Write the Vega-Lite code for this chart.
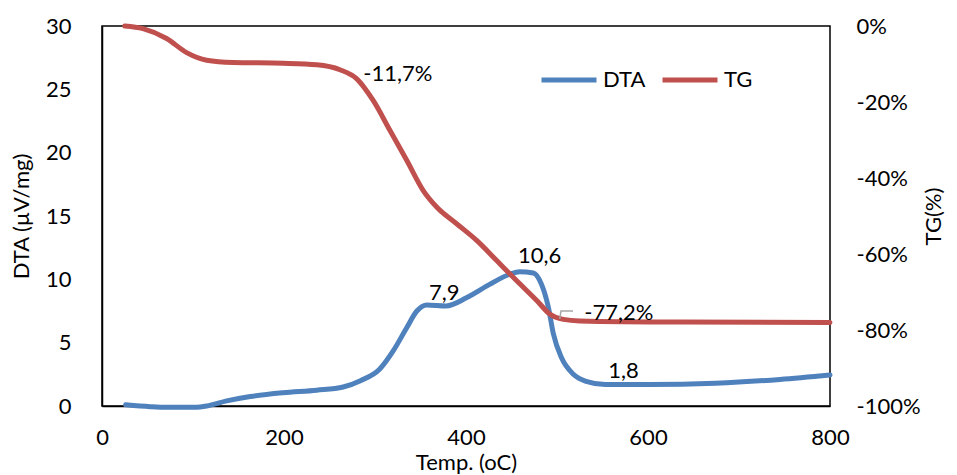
{
  "$schema": "https://vega.github.io/schema/vega-lite/v6.json",
  "width": 728,
  "height": 380,
  "autosize": {"type": "none"},
  "padding": {"left": 102, "top": 26, "right": 127, "bottom": 69},
  "background": "white",
  "config": {
    "font": "Lato",
    "view": {"stroke": "black", "strokeWidth": 1.5},
    "axis": {"grid": false, "ticks": false, "labelFlush": false, "domainColor": "black", "domainWidth": 1.5, "labelFont": "Lato", "titleFont": "Lato", "labelFontSize": 22, "titleFontSize": 22, "labelColor": "black", "titleColor": "black", "titleFontWeight": "normal"},
    "legend": {"labelFont": "Lato", "labelFontSize": 22, "labelColor": "black"}
  },
  "datasets": {
    "dta": [
      {"Temp": 26, "DTA": 0.1}, {"Temp": 53, "DTA": -0.05}, {"Temp": 71, "DTA": -0.1}, {"Temp": 104, "DTA": -0.1},
      {"Temp": 115, "DTA": 0.0}, {"Temp": 137, "DTA": 0.4}, {"Temp": 163, "DTA": 0.75}, {"Temp": 199, "DTA": 1.05},
      {"Temp": 236, "DTA": 1.25}, {"Temp": 265, "DTA": 1.5}, {"Temp": 284, "DTA": 2.0}, {"Temp": 305, "DTA": 2.9},
      {"Temp": 320, "DTA": 4.35}, {"Temp": 335, "DTA": 6.2}, {"Temp": 346, "DTA": 7.5}, {"Temp": 357, "DTA": 7.98},
      {"Temp": 378, "DTA": 7.9}, {"Temp": 401, "DTA": 8.56}, {"Temp": 426, "DTA": 9.6}, {"Temp": 448, "DTA": 10.4},
      {"Temp": 459, "DTA": 10.6}, {"Temp": 474, "DTA": 10.5}, {"Temp": 483, "DTA": 9.6}, {"Temp": 490.5, "DTA": 7.8},
      {"Temp": 496, "DTA": 5.7}, {"Temp": 505, "DTA": 3.8}, {"Temp": 518, "DTA": 2.5}, {"Temp": 532, "DTA": 1.95},
      {"Temp": 553, "DTA": 1.7}, {"Temp": 601, "DTA": 1.7}, {"Temp": 674, "DTA": 1.8}, {"Temp": 745, "DTA": 2.1},
      {"Temp": 800, "DTA": 2.45}
    ],
    "tg": [
      {"Temp": 25, "TG": 0}, {"Temp": 45, "TG": -0.7}, {"Temp": 71, "TG": -3.3}, {"Temp": 93, "TG": -7},
      {"Temp": 115, "TG": -9}, {"Temp": 144, "TG": -9.6}, {"Temp": 199, "TG": -9.8}, {"Temp": 236, "TG": -10.2},
      {"Temp": 261.5, "TG": -11.5}, {"Temp": 280, "TG": -13.9}, {"Temp": 298, "TG": -19.6}, {"Temp": 316.5, "TG": -27.5},
      {"Temp": 335, "TG": -35.4}, {"Temp": 353, "TG": -43.3}, {"Temp": 368, "TG": -47.7}, {"Temp": 390, "TG": -52.1},
      {"Temp": 412, "TG": -56.5}, {"Temp": 434, "TG": -61.8}, {"Temp": 456, "TG": -67.1}, {"Temp": 478, "TG": -72.3},
      {"Temp": 492, "TG": -75.8}, {"Temp": 507, "TG": -77.2}, {"Temp": 525, "TG": -77.6},
      {"Temp": 635, "TG": -77.9}, {"Temp": 800, "TG": -78}
    ],
    "dtaLabels": [
      {"Temp": 376, "DTA": 8.9, "label": "7,9"},
      {"Temp": 481, "DTA": 11.86, "label": "10,6"},
      {"Temp": 573, "DTA": 2.8, "label": "1,8"}
    ],
    "tgLabels": [
      {"Temp": 325, "TG": -12.5, "label": "-11,7%"},
      {"Temp": 568, "TG": -75.4, "label": "-77,2%"}
    ],
    "leader": [
      {"Temp": 503, "TG": -77.1}, {"Temp": 504.4, "TG": -75.0}, {"Temp": 517.6, "TG": -75.0}
    ]
  },
  "layer": [
    {
      "layer": [
        {
          "data": {"name": "dta"},
          "mark": {"type": "line", "strokeWidth": 5, "strokeCap": "round", "interpolate": "monotone"},
          "encoding": {
            "x": {"field": "Temp", "type": "quantitative", "scale": {"domain": [0, 800], "nice": false}, "axis": {"values": [0, 200, 400, 600, 800], "title": "Temp. (oC)", "labelPadding": 21, "titlePadding": 4}},
            "y": {"field": "DTA", "type": "quantitative", "scale": {"domain": [0, 30], "nice": false}, "axis": {"values": [0, 5, 10, 15, 20, 25, 30], "title": "DTA (µV/mg)", "labelPadding": 31, "titlePadding": 12}},
            "color": {"datum": "DTA", "type": "nominal", "scale": {"domain": ["DTA", "TG"], "range": ["#4F81BD", "#C0504D"]},
              "legend": {"title": null, "orient": "none", "direction": "horizontal", "legendX": 437, "legendY": 24, "symbolType": "stroke", "symbolStrokeWidth": 5, "symbolSize": 3025, "labelOffset": 4, "columnPadding": 6}}
          }
        },
        {
          "data": {"name": "dtaLabels"},
          "mark": {"type": "text", "fontSize": 22, "font": "Lato", "baseline": "middle", "align": "center", "color": "black"},
          "encoding": {
            "x": {"field": "Temp", "type": "quantitative", "axis": {"values": [0, 200, 400, 600, 800], "title": "Temp. (oC)", "labelPadding": 21, "titlePadding": 4}},
            "y": {"field": "DTA", "type": "quantitative", "axis": {"values": [0, 5, 10, 15, 20, 25, 30], "title": "DTA (µV/mg)", "labelPadding": 31, "titlePadding": 12}},
            "text": {"field": "label"}
          }
        }
      ]
    },
    {
      "layer": [
        {
          "data": {"name": "tg"},
          "mark": {"type": "line", "strokeWidth": 5, "strokeCap": "round", "interpolate": "monotone"},
          "encoding": {
            "x": {"field": "Temp", "type": "quantitative", "axis": {"values": [0, 200, 400, 600, 800], "title": "Temp. (oC)", "labelPadding": 21, "titlePadding": 4}},
            "y": {"field": "TG", "type": "quantitative", "scale": {"domain": [-100, 0], "nice": false}, "axis": {"orient": "right", "values": [-100, -80, -60, -40, -20, 0], "labelExpr": "datum.value + '%'", "title": "TG(%)", "titleAngle": 270, "labelPadding": 26, "titlePadding": 25, "domain": false}},
            "color": {"datum": "TG", "type": "nominal"}
          }
        },
        {
          "data": {"name": "leader"},
          "mark": {"type": "line", "strokeWidth": 1.5, "color": "#A6A6A6"},
          "encoding": {
            "x": {"field": "Temp", "type": "quantitative", "axis": {"values": [0, 200, 400, 600, 800], "title": "Temp. (oC)", "labelPadding": 21, "titlePadding": 4}},
            "y": {"field": "TG", "type": "quantitative", "axis": {"orient": "right", "values": [-100, -80, -60, -40, -20, 0], "labelExpr": "datum.value + '%'", "title": "TG(%)", "titleAngle": 270, "labelPadding": 26, "titlePadding": 25, "domain": false}}
          }
        },
        {
          "data": {"name": "tgLabels"},
          "mark": {"type": "text", "fontSize": 22, "font": "Lato", "baseline": "middle", "align": "center", "color": "black"},
          "encoding": {
            "x": {"field": "Temp", "type": "quantitative", "axis": {"values": [0, 200, 400, 600, 800], "title": "Temp. (oC)", "labelPadding": 21, "titlePadding": 4}},
            "y": {"field": "TG", "type": "quantitative", "axis": {"orient": "right", "values": [-100, -80, -60, -40, -20, 0], "labelExpr": "datum.value + '%'", "title": "TG(%)", "titleAngle": 270, "labelPadding": 26, "titlePadding": 25, "domain": false}},
            "text": {"field": "label"}
          }
        }
      ]
    }
  ],
  "resolve": {"scale": {"y": "independent"}}
}
